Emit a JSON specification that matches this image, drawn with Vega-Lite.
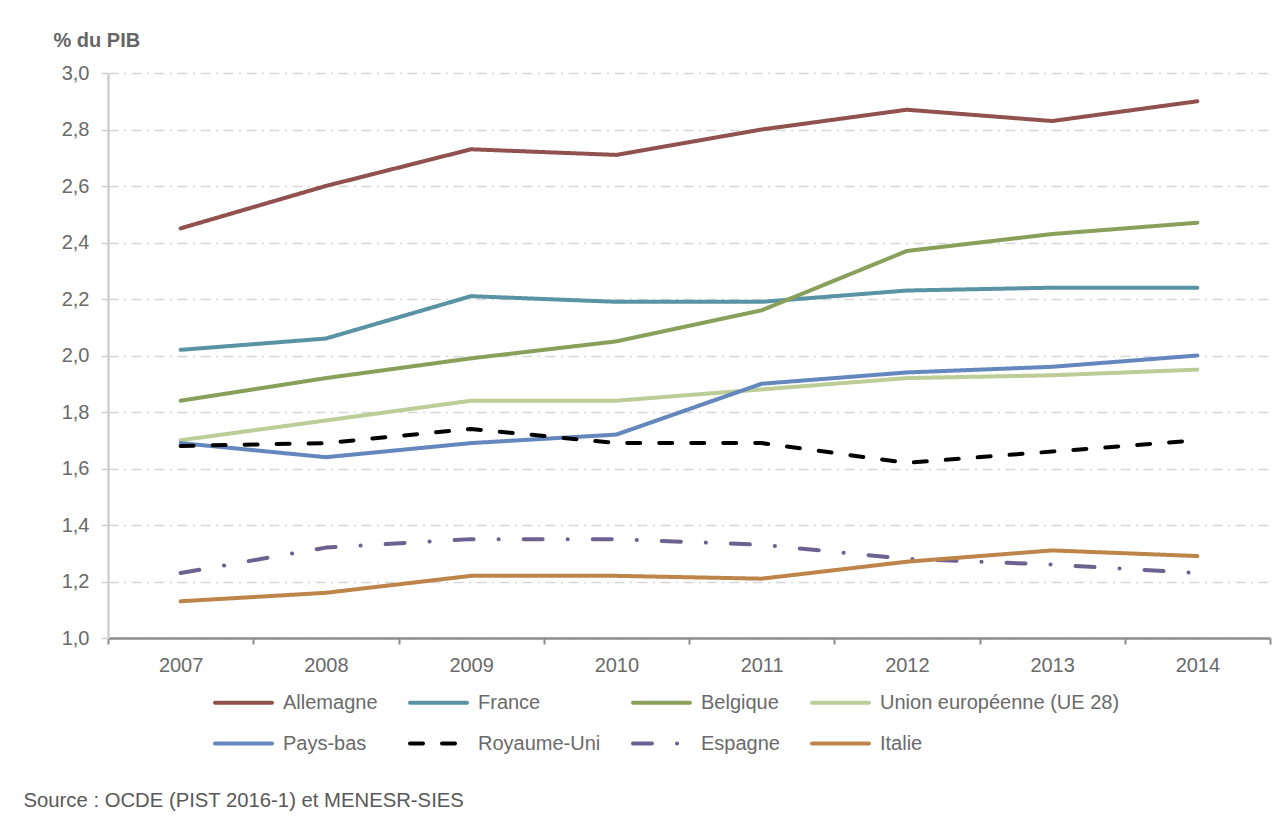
{
  "$schema": "https://vega.github.io/schema/vega-lite/v6.json",
  "width": 1162,
  "height": 565,
  "autosize": "none",
  "padding": {"left": 108, "top": 73, "right": 12, "bottom": 189},
  "background": "white",
  "data": {
    "values": [
      {"pays": "Allemagne", "annee": "2007", "v": 2.45},
      {"pays": "Allemagne", "annee": "2008", "v": 2.60},
      {"pays": "Allemagne", "annee": "2009", "v": 2.73},
      {"pays": "Allemagne", "annee": "2010", "v": 2.71},
      {"pays": "Allemagne", "annee": "2011", "v": 2.80},
      {"pays": "Allemagne", "annee": "2012", "v": 2.87},
      {"pays": "Allemagne", "annee": "2013", "v": 2.83},
      {"pays": "Allemagne", "annee": "2014", "v": 2.90},
      {"pays": "France", "annee": "2007", "v": 2.02},
      {"pays": "France", "annee": "2008", "v": 2.06},
      {"pays": "France", "annee": "2009", "v": 2.21},
      {"pays": "France", "annee": "2010", "v": 2.19},
      {"pays": "France", "annee": "2011", "v": 2.19},
      {"pays": "France", "annee": "2012", "v": 2.23},
      {"pays": "France", "annee": "2013", "v": 2.24},
      {"pays": "France", "annee": "2014", "v": 2.24},
      {"pays": "Belgique", "annee": "2007", "v": 1.84},
      {"pays": "Belgique", "annee": "2008", "v": 1.92},
      {"pays": "Belgique", "annee": "2009", "v": 1.99},
      {"pays": "Belgique", "annee": "2010", "v": 2.05},
      {"pays": "Belgique", "annee": "2011", "v": 2.16},
      {"pays": "Belgique", "annee": "2012", "v": 2.37},
      {"pays": "Belgique", "annee": "2013", "v": 2.43},
      {"pays": "Belgique", "annee": "2014", "v": 2.47},
      {"pays": "Union européenne (UE 28)", "annee": "2007", "v": 1.70},
      {"pays": "Union européenne (UE 28)", "annee": "2008", "v": 1.77},
      {"pays": "Union européenne (UE 28)", "annee": "2009", "v": 1.84},
      {"pays": "Union européenne (UE 28)", "annee": "2010", "v": 1.84},
      {"pays": "Union européenne (UE 28)", "annee": "2011", "v": 1.88},
      {"pays": "Union européenne (UE 28)", "annee": "2012", "v": 1.92},
      {"pays": "Union européenne (UE 28)", "annee": "2013", "v": 1.93},
      {"pays": "Union européenne (UE 28)", "annee": "2014", "v": 1.95},
      {"pays": "Pays-bas", "annee": "2007", "v": 1.69},
      {"pays": "Pays-bas", "annee": "2008", "v": 1.64},
      {"pays": "Pays-bas", "annee": "2009", "v": 1.69},
      {"pays": "Pays-bas", "annee": "2010", "v": 1.72},
      {"pays": "Pays-bas", "annee": "2011", "v": 1.90},
      {"pays": "Pays-bas", "annee": "2012", "v": 1.94},
      {"pays": "Pays-bas", "annee": "2013", "v": 1.96},
      {"pays": "Pays-bas", "annee": "2014", "v": 2.00},
      {"pays": "Royaume-Uni", "annee": "2007", "v": 1.68},
      {"pays": "Royaume-Uni", "annee": "2008", "v": 1.69},
      {"pays": "Royaume-Uni", "annee": "2009", "v": 1.74},
      {"pays": "Royaume-Uni", "annee": "2010", "v": 1.69},
      {"pays": "Royaume-Uni", "annee": "2011", "v": 1.69},
      {"pays": "Royaume-Uni", "annee": "2012", "v": 1.62},
      {"pays": "Royaume-Uni", "annee": "2013", "v": 1.66},
      {"pays": "Royaume-Uni", "annee": "2014", "v": 1.70},
      {"pays": "Espagne", "annee": "2007", "v": 1.23},
      {"pays": "Espagne", "annee": "2008", "v": 1.32},
      {"pays": "Espagne", "annee": "2009", "v": 1.35},
      {"pays": "Espagne", "annee": "2010", "v": 1.35},
      {"pays": "Espagne", "annee": "2011", "v": 1.33},
      {"pays": "Espagne", "annee": "2012", "v": 1.28},
      {"pays": "Espagne", "annee": "2013", "v": 1.26},
      {"pays": "Espagne", "annee": "2014", "v": 1.23},
      {"pays": "Italie", "annee": "2007", "v": 1.13},
      {"pays": "Italie", "annee": "2008", "v": 1.16},
      {"pays": "Italie", "annee": "2009", "v": 1.22},
      {"pays": "Italie", "annee": "2010", "v": 1.22},
      {"pays": "Italie", "annee": "2011", "v": 1.21},
      {"pays": "Italie", "annee": "2012", "v": 1.27},
      {"pays": "Italie", "annee": "2013", "v": 1.31},
      {"pays": "Italie", "annee": "2014", "v": 1.29}
    ]
  },
  "mark": {"type": "line", "strokeWidth": 4, "strokeCap": "round", "strokeJoin": "round"},
  "encoding": {
    "x": {
      "field": "annee",
      "type": "ordinal",
      "scale": {"type": "band", "paddingInner": 0, "paddingOuter": 0},
      "axis": {
        "title": "Source : OCDE (PIST 2016-1) et MENESR-SIES",
        "titleAnchor": "start",
        "titleAlign": "left",
        "titleBaseline": "middle",
        "titleX": -85,
        "titleY": 162,
        "titleFontSize": 20.3,
        "titleFontWeight": "normal",
        "titleColor": "#595959",
        "titleFont": "Liberation Sans",
        "labelAngle": 0,
        "tickBand": "extent",
        "grid": false,
        "domainColor": "#8c8c8c",
        "domainWidth": 2.5,
        "tickColor": "#8c8c8c",
        "tickWidth": 2,
        "tickSize": 6,
        "labelPadding": 11,
        "labelFontSize": 20,
        "labelColor": "#6a6a6a",
        "labelFont": "Liberation Sans"
      }
    },
    "y": {
      "field": "v",
      "type": "quantitative",
      "scale": {"domain": [1, 3], "nice": false, "zero": false},
      "axis": {
        "values": [1, 1.2, 1.4, 1.6, 1.8, 2, 2.2, 2.4, 2.6, 2.8, 3],
        "labelExpr": "replace(format(datum.value, '.1f'), '.', ',')",
        "grid": true,
        "gridColor": "#d6d6d6",
        "gridWidth": 1.5,
        "gridDash": [10, 5.5, 2, 5.5],
        "domainColor": "#d0d0d0",
        "domainWidth": 2.5,
        "tickColor": "#d0d0d0",
        "tickWidth": 1.5,
        "tickSize": 7,
        "labelPadding": 12,
        "labelFontSize": 20,
        "labelColor": "#6a6a6a",
        "labelFont": "Liberation Sans",
        "title": "% du PIB",
        "titleAngle": 0,
        "titleAlign": "left",
        "titleBaseline": "middle",
        "titleX": -55,
        "titleY": -33,
        "titleFontSize": 20,
        "titleFontWeight": "bold",
        "titleColor": "#666666",
        "titleFont": "Liberation Sans"
      }
    },
    "color": {
      "field": "pays",
      "type": "nominal",
      "scale": {
        "domain": ["Allemagne", "France", "Belgique", "Union européenne (UE 28)", "Pays-bas", "Royaume-Uni", "Espagne", "Italie"],
        "range": ["#91514f", "#5a93a4", "#88a05a", "#bccd97", "#6488bd", "#000000", "#6c6191", "#be854b"]
      },
      "legend": {
        "title": null,
        "orient": "none",
        "direction": "horizontal",
        "legendX": 105,
        "legendY": 599,
        "columns": 4,
        "columnPadding": 24,
        "rowPadding": -2,
        "symbolType": "stroke",
        "symbolSize": 3249,
        "symbolStrokeWidth": 4,
        "labelOffset": 9,
        "labelFontSize": 20,
        "labelColor": "#6a6a6a",
        "labelFont": "Liberation Sans",
        "labelLimit": 400,
        "encode": {"symbols": {"update": {"strokeCap": {"value": "round"}}}}
      }
    },
    "strokeDash": {
      "field": "pays",
      "type": "nominal",
      "scale": {
        "domain": ["Allemagne", "France", "Belgique", "Union européenne (UE 28)", "Pays-bas", "Royaume-Uni", "Espagne", "Italie"],
        "range": [[1, 0], [1, 0], [1, 0], [1, 0], [1, 0], [13, 19], [19, 25, 0.1, 25], [1, 0]]
      },
      "legend": null
    }
  },
  "config": {
    "view": {"stroke": null},
    "font": "Liberation Sans"
  }
}
